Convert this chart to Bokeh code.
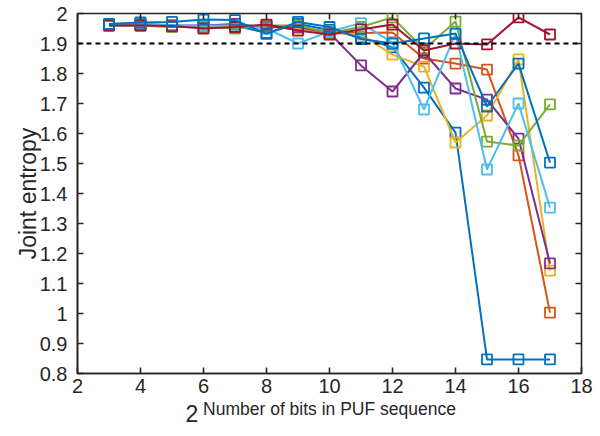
import math
from bokeh.plotting import figure
from bokeh.models import Range1d, Span, Title, FixedTicker
from bokeh.embed import file_html
from bokeh.resources import INLINE

bits = [3, 4, 5, 6, 7, 8, 9, 10, 11, 12, 13, 14, 15, 16, 17]

blue_a = [1.962, 1.965, 1.960, 1.955, 1.960, 1.935, 1.965, 1.945, 1.920, 1.887, 1.753, 1.603, 0.847, 0.847, 0.847]
orange = [1.962, 1.962, 1.958, 1.955, 1.955, 1.955, 1.952, 1.940, 1.935, 1.937, 1.850, 1.833, 1.813, 1.527, 1.003]
yellow = [1.960, 1.960, 1.955, 1.955, 1.955, 1.955, 1.950, 1.935, 1.930, 1.863, 1.823, 1.570, 1.660, 1.847, 1.143]
purple = [1.962, 1.963, 1.960, 1.960, 1.965, 1.955, 1.955, 1.935, 1.827, 1.740, 1.870, 1.750, 1.713, 1.583, 1.167]
green = [1.960, 1.960, 1.955, 1.955, 1.950, 1.960, 1.960, 1.935, 1.955, 1.987, 1.880, 1.973, 1.573, 1.560, 1.697]
light_blue = [1.965, 1.968, 1.960, 1.960, 1.960, 1.950, 1.900, 1.940, 1.968, 1.903, 1.680, 1.933, 1.480, 1.700, 1.353]
dark_red = [1.960, 1.960, 1.958, 1.950, 1.955, 1.963, 1.943, 1.930, 1.947, 1.963, 1.877, 1.900, 1.897, 1.987, 1.930]
blue_b = [1.965, 1.970, 1.972, 1.980, 1.978, 1.932, 1.972, 1.955, 1.915, 1.900, 1.917, 1.933, 1.690, 1.833, 1.503]

series = [blue_a, orange, yellow, purple, green, light_blue, dark_red, blue_b]
colors = ["#0072BD", "#D95319", "#EDB120", "#7E2F8E", "#77AC30", "#4DBEEE", "#A2142F", "#0072BD"]

threshold = 1.9
x_min, x_max = 2, 18
y_min, y_max = 0.8, 2.0
x_ticks = [2, 4, 6, 8, 10, 12, 14, 16, 18]
y_ticks = [0.8, 0.9, 1.0, 1.1, 1.2, 1.3, 1.4, 1.5, 1.6, 1.7, 1.8, 1.9, 2.0]
y_tick_labels = {0.8: "0.8", 0.9: "0.9", 1.0: "1", 1.1: "1.1", 1.2: "1.2", 1.3: "1.3", 1.4: "1.4",
                 1.5: "1.5", 1.6: "1.6", 1.7: "1.7", 1.8: "1.8", 1.9: "1.9", 2.0: "2"}
x_label_base = "2"
x_label_exp = "Number of bits in PUF sequence"
y_label = "Joint entropy"

FONT = "Liberation Sans"
AX = "#262626"

p = figure(width=600, height=436, output_backend="svg", toolbar_location=None,
           x_range=Range1d(x_min, x_max), y_range=Range1d(y_min, y_max),
           min_border_left=77, min_border_right=19, min_border_top=13, min_border_bottom=63)
p.grid.visible = False
p.outline_line_color = AX
p.outline_line_width = 1.6
p.background_fill_color = "white"
p.border_fill_color = "white"

for s, c in zip(series, colors):
    p.line(bits, s, line_color=c, line_width=2)
    p.scatter(bits, s, marker="square", size=10, line_color=c, line_width=1.8,
              fill_alpha=0)

p.add_layout(Span(location=threshold, dimension="width", line_color="black",
                  line_width=2, line_dash="5 4"))

# mirrored inward ticks on the top and right edges of the box (clipped to the frame)
p.scatter(x_ticks, [y_max] * len(x_ticks), marker="dash", size=12, angle=math.pi / 2,
          line_color=AX, line_width=1.6)
p.scatter([x_max] * len(y_ticks), y_ticks, marker="dash", size=12,
          line_color=AX, line_width=1.6)

def style(ax):
    ax.axis_line_color = AX
    ax.axis_line_width = 1.6
    ax.major_tick_line_color = AX
    ax.major_tick_line_width = 1.6
    ax.major_tick_in = 6
    ax.major_tick_out = 0
    ax.minor_tick_line_color = None
    ax.major_label_text_color = AX
    ax.major_label_text_font = FONT
    ax.major_label_text_font_size = "20px"

xa = p.xaxis[0]
xa.ticker = FixedTicker(ticks=x_ticks)
style(xa)
xa.major_label_standoff = 5
xa.axis_label = x_label_exp
xa.axis_label_text_font = FONT
xa.axis_label_text_font_size = "17.5px"
xa.axis_label_text_font_style = "normal"
xa.axis_label_text_color = AX
xa.axis_label_standoff = 3

ya = p.yaxis[0]
ya.ticker = FixedTicker(ticks=y_ticks)
ya.major_label_overrides = y_tick_labels
style(ya)
ya.major_label_standoff = 10
ya.axis_label = y_label
ya.axis_label_text_font = FONT
ya.axis_label_text_font_size = "23px"
ya.axis_label_text_font_style = "normal"
ya.axis_label_text_color = AX
ya.axis_label_standoff = -4

p.add_layout(Title(text=x_label_base, align="left", offset=108, standoff=-34,
                   vertical_align="top",
                   text_font=FONT, text_font_size="23px", text_font_style="normal",
                   text_color=AX), "below")

open("out.html", "w").write(file_html(p, INLINE))
